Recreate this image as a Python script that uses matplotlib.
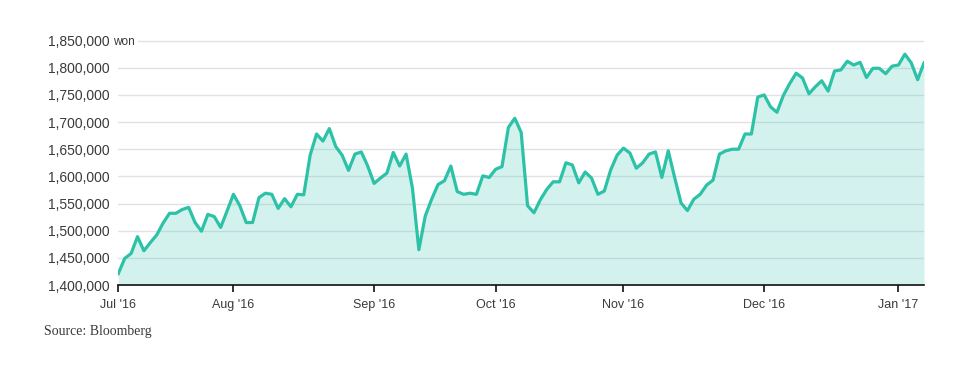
import matplotlib
matplotlib.use("Agg")
import matplotlib.pyplot as plt
from matplotlib.ticker import FuncFormatter

# daily closing price, Jul 2016 - early Jan 2017 (won), one value per trading day
prices = [
    1421000, 1449000, 1458000, 1489000, 1463000, 1478000, 1492000, 1514000, 1532000, 1532000,
    1539000, 1543000, 1515000, 1499000, 1530000, 1526000, 1506000, 1536000, 1567000, 1546000,
    1515000, 1515000, 1561000, 1569000, 1567000, 1541000, 1559000, 1544000, 1567000, 1566000,
    1639000, 1678000, 1665000, 1688000, 1655000, 1639000, 1611000, 1641000, 1645000, 1619000,
    1587000, 1597000, 1606000, 1644000, 1619000, 1641000, 1578000, 1465000, 1527000, 1558000,
    1585000, 1592000, 1619000, 1572000, 1567000, 1569000, 1567000, 1601000, 1598000, 1613000,
    1618000, 1690000, 1707000, 1681000, 1546000, 1533000, 1557000, 1576000, 1590000, 1590000,
    1625000, 1621000, 1588000, 1608000, 1597000, 1567000, 1573000, 1612000, 1639000, 1652000,
    1643000, 1615000, 1625000, 1641000, 1645000, 1598000, 1647000, 1598000, 1551000, 1537000,
    1558000, 1567000, 1584000, 1593000, 1641000, 1647000, 1650000, 1650000, 1678000, 1678000,
    1746000, 1750000, 1728000, 1718000, 1749000, 1771000, 1790000, 1781000, 1752000, 1765000,
    1776000, 1757000, 1794000, 1796000, 1812000, 1805000, 1810000, 1782000, 1799000, 1799000,
    1789000, 1803000, 1805000, 1825000, 1809000, 1778000, 1809000,
]
month_labels = ["Jul '16", "Aug '16", "Sep '16", "Oct '16", "Nov '16", "Dec '16", "Jan '17"]
month_first_day = [0, 18, 40, 59, 79, 101, 122]
y_ticks = [1400000, 1450000, 1500000, 1550000, 1600000, 1650000, 1700000, 1750000, 1800000, 1850000]

teal = "#2cc2a7"
text_col = "#3a3a3a"

fig = plt.figure(figsize=(9.69, 3.71), dpi=100)
ax = fig.add_axes([0.1221, 0.2318, 0.8315, 0.6661])

days = list(range(len(prices)))
ax.fill_between(days, prices, 1400000, color=teal, alpha=0.2, linewidth=0, zorder=2)
ax.plot(days, prices, color=teal, linewidth=2.3, solid_joinstyle="round", zorder=3)

ax.set_xlim(0, len(prices) - 1)
ax.set_ylim(1400000, 1855000)

ax.set_yticks(y_ticks)
ax.yaxis.set_major_formatter(FuncFormatter(lambda v, p: f"{int(v):,}"))
ax.set_xticks(month_first_day)
ax.set_xticklabels(month_labels)

ax.grid(axis="y", color="#e1e2e8", linewidth=1.0, zorder=1)
ax.set_axisbelow(True)

for s in ["top", "right", "left"]:
    ax.spines[s].set_visible(False)
ax.spines["bottom"].set_color("#111111")
ax.spines["bottom"].set_linewidth(1.2)
ax.spines["bottom"].set_zorder(4)

ax.tick_params(axis="y", length=0, pad=6, labelsize=10, labelcolor=text_col)
ax.tick_params(axis="x", length=5, width=1.2, color="#111111", pad=5,
               labelsize=9, labelcolor=text_col)
for lbl in ax.get_xticklabels() + ax.get_yticklabels():
    lbl.set_family("Liberation Sans")

ax.text(-0.007, 1850000, "won", transform=ax.get_yaxis_transform(),
        ha="left", va="center_baseline", fontsize=8.5, color=text_col, family="Liberation Sans",
        bbox=dict(facecolor="white", edgecolor="none", pad=2.5), zorder=5)

fig.text(44 / 969, 1 - 332 / 371, "Source: Bloomberg", ha="left", va="center",
         fontsize=10, color=text_col, family="Liberation Serif")

fig.savefig("out.png", dpi=100)
